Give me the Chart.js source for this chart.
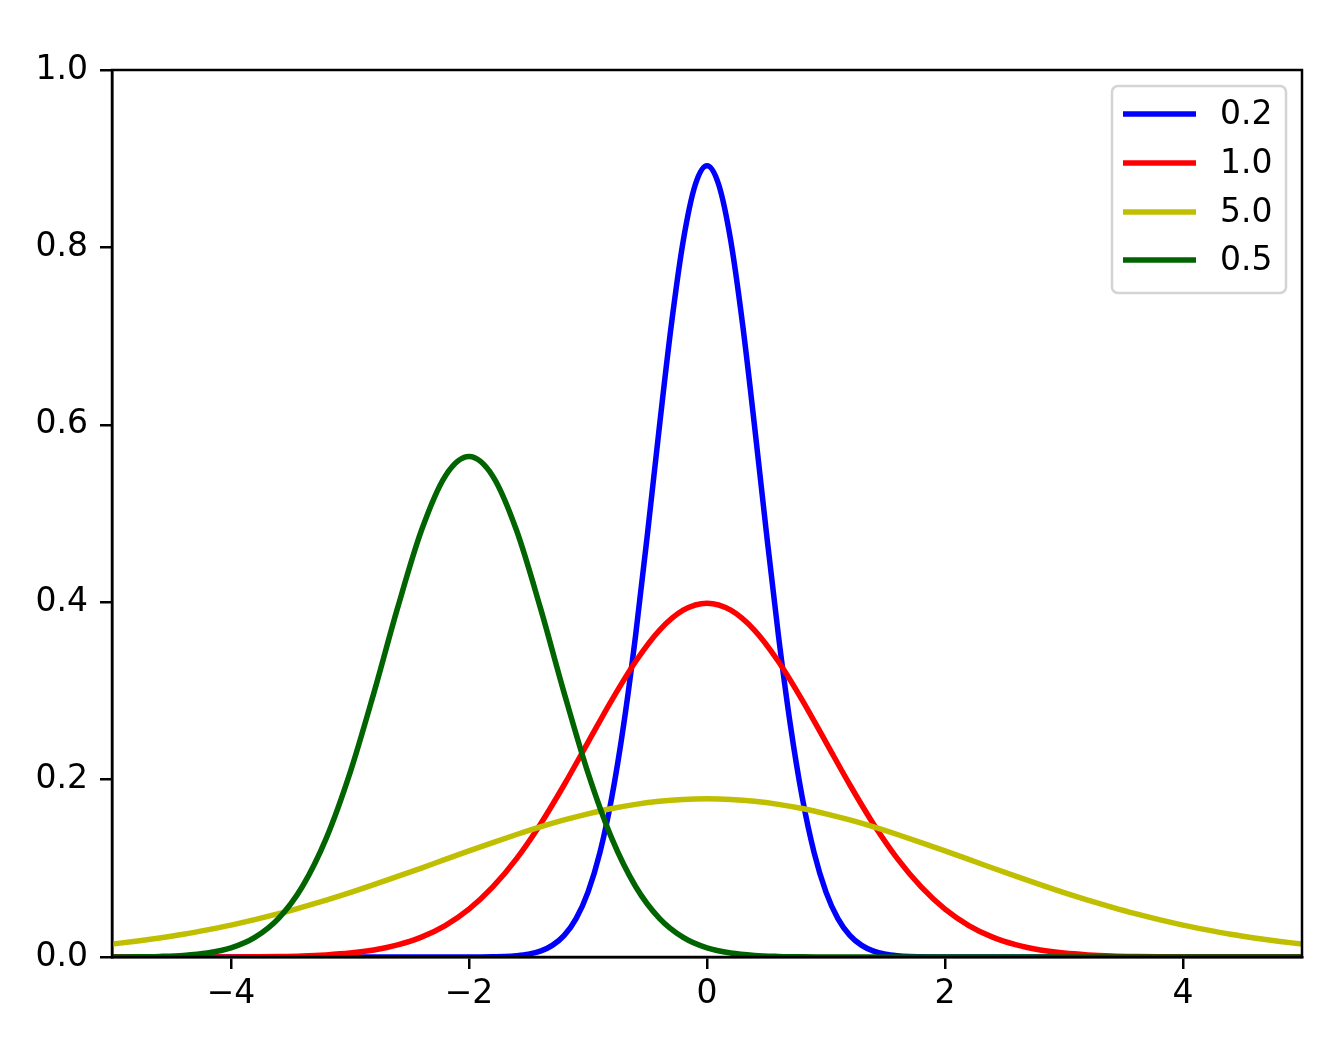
<!DOCTYPE html>
<html>
<head>
<meta charset="utf-8">
<script src="https://cdn.jsdelivr.net/npm/chart.js@4.4.0/dist/chart.umd.min.js"></script>
<style>
  html, body { margin: 0; padding: 0; background: #fff; }
  #wrap { width: 1333px; height: 1061px; }
</style>
</head>
<body>
<div id="wrap"><canvas id="chart" width="1333" height="1061"></canvas></div>
<script>
// x grid, -5 .. 5 step 0.2
const xs = [
  -5.0, -4.8, -4.6, -4.4, -4.2, -4.0, -3.8, -3.6, -3.4, -3.2,
  -3.0, -2.8, -2.6, -2.4, -2.2, -2.0, -1.8, -1.6, -1.4, -1.2,
  -1.0, -0.8, -0.6, -0.4, -0.2, 0.0, 0.2, 0.4, 0.6, 0.8,
  1.0, 1.2, 1.4, 1.6, 1.8, 2.0, 2.2, 2.4, 2.6, 2.8,
  3.0, 3.2, 3.4, 3.6, 3.8, 4.0, 4.2, 4.4, 4.6, 4.8, 5.0
];

// narrow curve read on a finer grid
const blueXs = [
  -5.0, -2.0, -1.9, -1.8, -1.7, -1.6, -1.5, -1.4, -1.3, -1.2, -1.1,
  -1.0, -0.9, -0.8, -0.7, -0.6, -0.5, -0.4, -0.3, -0.2, -0.1,
  0.0, 0.1, 0.2, 0.3, 0.4, 0.5, 0.6, 0.7, 0.8, 0.9,
  1.0, 1.1, 1.2, 1.3, 1.4, 1.5, 1.6, 1.7, 1.8, 1.9, 2.0, 5.0
];

const seriesLabels = ["0.2", "1.0", "5.0", "0.5"];
const seriesColors = ["#0000ff", "#ff0000", "#bfbf00", "#006400"];

const blue = [
  0, 0.0000, 0.0001, 0.0003, 0.0006, 0.0015, 0.0032, 0.0066, 0.0131, 0.0244, 0.0433,
  0.0732, 0.1177, 0.1801, 0.2621, 0.3627, 0.4775, 0.5980, 0.7123, 0.8072, 0.8701,
  0.8921, 0.8701, 0.8072, 0.7123, 0.5980, 0.4775, 0.3627, 0.2621, 0.1801, 0.1177,
  0.0732, 0.0433, 0.0244, 0.0131, 0.0066, 0.0032, 0.0015, 0.0006, 0.0003, 0.0001, 0.0000, 0
];

const red = [
  0.0000, 0.0000, 0.0000, 0.0000, 0.0001, 0.0001, 0.0003, 0.0006, 0.0012, 0.0024,
  0.0044, 0.0079, 0.0136, 0.0224, 0.0355, 0.0540, 0.0790, 0.1109, 0.1497, 0.1942,
  0.2420, 0.2897, 0.3332, 0.3683, 0.3910, 0.3989, 0.3910, 0.3683, 0.3332, 0.2897,
  0.2420, 0.1942, 0.1497, 0.1109, 0.0790, 0.0540, 0.0355, 0.0224, 0.0136, 0.0079,
  0.0044, 0.0024, 0.0012, 0.0006, 0.0003, 0.0001, 0.0001, 0.0000, 0.0000, 0.0000, 0.0000
];

const yellow = [
  0.0146, 0.0178, 0.0215, 0.0257, 0.0306, 0.0360, 0.0421, 0.0488, 0.0562, 0.0641,
  0.0725, 0.0815, 0.0908, 0.1003, 0.1100, 0.1196, 0.1290, 0.1381, 0.1467, 0.1545,
  0.1614, 0.1674, 0.1721, 0.1756, 0.1777, 0.1784, 0.1777, 0.1756, 0.1721, 0.1674,
  0.1614, 0.1545, 0.1467, 0.1381, 0.1290, 0.1196, 0.1100, 0.1003, 0.0908, 0.0815,
  0.0725, 0.0641, 0.0562, 0.0488, 0.0421, 0.0360, 0.0306, 0.0257, 0.0215, 0.0178, 0.0146
];

const green = [
  0.0001, 0.0002, 0.0007, 0.0018, 0.0045, 0.0103, 0.0221, 0.0436, 0.0795, 0.1337,
  0.2076, 0.2975, 0.3936, 0.4808, 0.5421, 0.5642, 0.5421, 0.4808, 0.3936, 0.2975,
  0.2076, 0.1337, 0.0795, 0.0436, 0.0221, 0.0103, 0.0045, 0.0018, 0.0007, 0.0002,
  0.0001, 0, 0, 0, 0, 0, 0, 0, 0, 0,
  0, 0, 0, 0, 0, 0, 0, 0, 0, 0, 0
];

const xTicks = [-4, -2, 0, 2, 4];
const yTicks = [0.0, 0.2, 0.4, 0.6, 0.8, 1.0];

const FONT = "'DejaVu Sans', sans-serif";
const FONT_SIZE = 33;
const LINE_W = 5.5;
Chart.defaults.font.family = FONT;
Chart.defaults.font.size = FONT_SIZE;
Chart.defaults.color = "#000";

function points(xv, ys) {
  return xv.map((x, i) => ({ x: x, y: ys[i] }));
}

// matplotlib-style frame and legend
const framePlugin = {
  id: "frame",
  afterDraw(chart) {
    const { ctx, chartArea: a } = chart;
    ctx.save();
    ctx.strokeStyle = "#000";
    ctx.lineWidth = 2.5;
    ctx.strokeRect(a.left, a.top, a.right - a.left, a.bottom - a.top);

    // legend box
    const bx = 1112, by = 86, bw = 174, bh = 207;
    ctx.fillStyle = "rgba(255,255,255,0.8)";
    ctx.strokeStyle = "#d4d4d4";
    ctx.lineWidth = 2.5;
    ctx.beginPath();
    ctx.roundRect(bx, by, bw, bh, 6);
    ctx.fill();
    ctx.stroke();

    ctx.font = FONT_SIZE + "px " + FONT;
    ctx.textBaseline = "middle";
    ctx.textAlign = "left";
    const rowY = [114, 163, 212, 260];
    chart.data.datasets.forEach((ds, i) => {
      ctx.strokeStyle = ds.borderColor;
      ctx.lineWidth = LINE_W;
      ctx.beginPath();
      ctx.moveTo(1123, rowY[i]);
      ctx.lineTo(1196, rowY[i]);
      ctx.stroke();
      ctx.fillStyle = "#000";
      ctx.fillText(ds.label, 1220, rowY[i] + 1);
    });
    ctx.restore();
  },
};

const seriesXs = [blueXs, xs, xs, xs];
const datasets = [blue, red, yellow, green].map((ys, i) => ({
  label: seriesLabels[i],
  data: points(seriesXs[i], ys),
  borderColor: seriesColors[i],
  borderWidth: LINE_W,
  pointRadius: 0,
  fill: false,
  cubicInterpolationMode: "monotone",
  order: 4 - i,
}));

new Chart(document.getElementById("chart"), {
  type: "line",
  data: { datasets: datasets },
  options: {
    responsive: false,
    animation: false,
    layout: { padding: { top: 70, right: 31, left: 0, bottom: 0 } },
    plugins: { legend: { display: false }, tooltip: { enabled: false } },
    scales: {
      x: {
        type: "linear",
        min: -5,
        max: 5,
        afterFit(scale) { scale.height = 104; },
        afterBuildTicks(scale) { scale.ticks = xTicks.map((v) => ({ value: v })); },
        ticks: {
          padding: 6,
          font: { size: FONT_SIZE },
          color: "#000",
          callback: (v) => (v < 0 ? "\u2212" + Math.abs(v) : String(v)),
        },
        grid: { drawOnChartArea: false, drawTicks: true, tickLength: 12, tickWidth: 2.5, tickColor: "#000", color: "#000", lineWidth: 2.5 },
        border: { display: true, color: "#000", width: 2.5 },
      },
      y: {
        type: "linear",
        min: 0,
        max: 1,
        afterFit(scale) { scale.width = 112; },
        afterBuildTicks(scale) { scale.ticks = yTicks.map((v) => ({ value: v })); },
        ticks: {
          padding: 12,
          font: { size: FONT_SIZE },
          color: "#000",
          callback: (v) => Number(v).toFixed(1),
        },
        grid: { drawOnChartArea: false, drawTicks: true, tickLength: 12, tickWidth: 2.5, tickColor: "#000", color: "#000", lineWidth: 2.5 },
        border: { display: true, color: "#000", width: 2.5 },
      },
    },
  },
  plugins: [framePlugin],
});
</script>
</body>
</html>
